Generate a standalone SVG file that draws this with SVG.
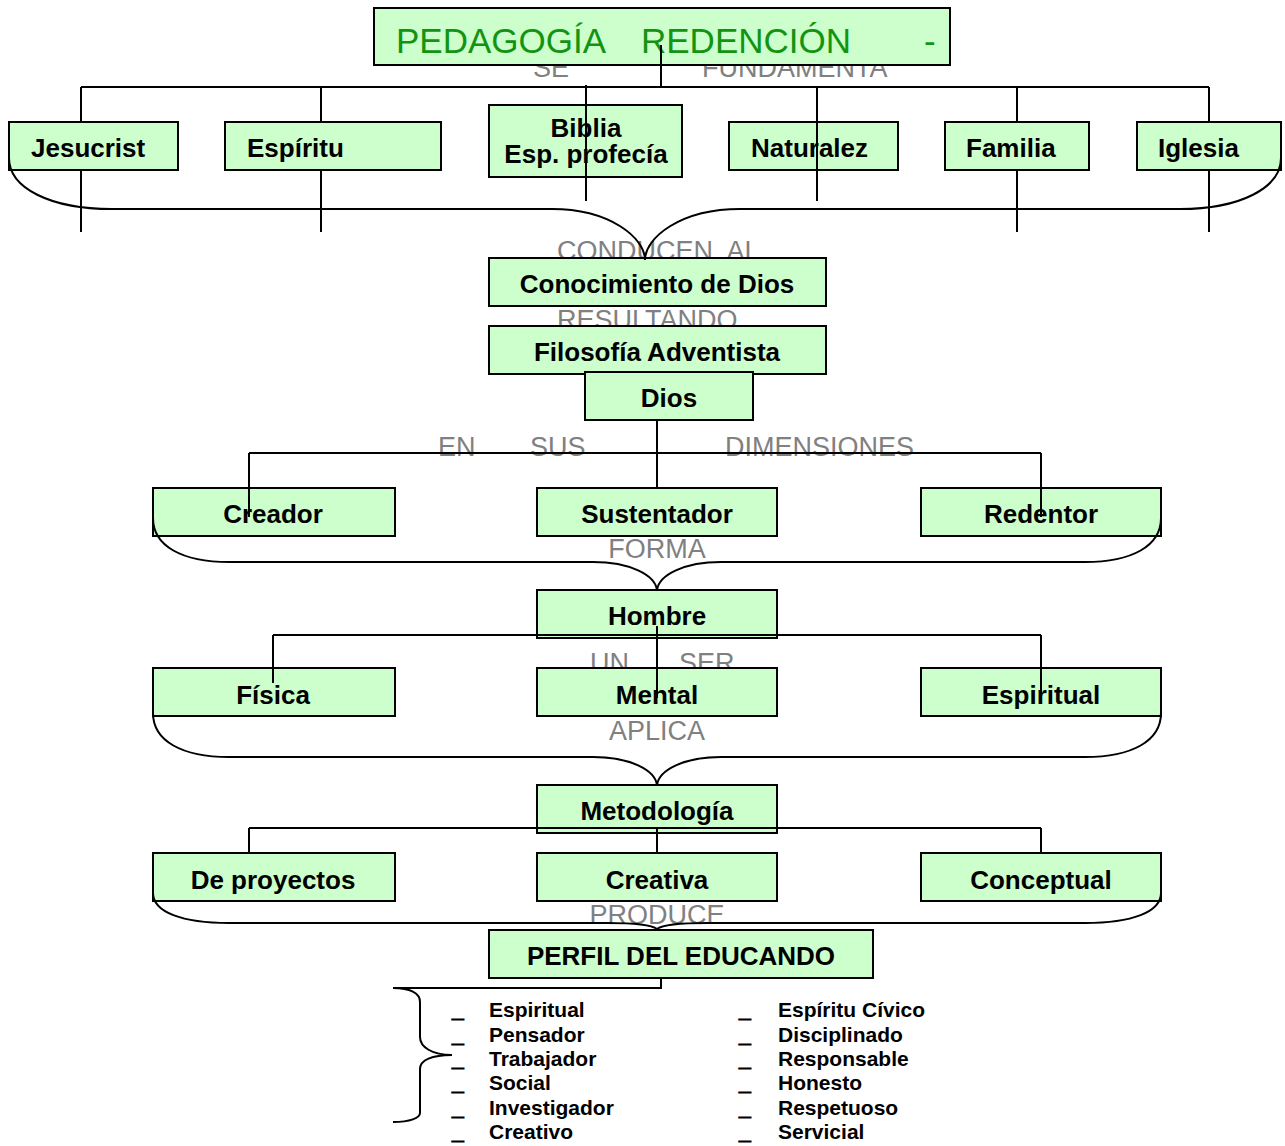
<svg xmlns="http://www.w3.org/2000/svg" width="1285" height="1146" viewBox="0 0 1285 1146">
<style>
.box{fill:#CCFFCC;stroke:#000;stroke-width:2}
.t{font-family:"Liberation Sans",Arial,sans-serif;font-weight:bold;font-size:26px;fill:#000}
.c{text-anchor:middle}
.g{font-family:"Liberation Sans",Arial,sans-serif;font-size:27px;fill:#808080}
.ln{stroke:#000;stroke-width:2;fill:none}
.it{font-family:"Liberation Sans",Arial,sans-serif;font-weight:bold;font-size:21px;fill:#000}
.d{stroke:#000;stroke-width:1.2}
.ti{font-family:"Liberation Sans",Arial,sans-serif;font-size:35px;fill:#129412}
</style>
<rect width="1285" height="1146" fill="#fff"/>
<g id="labels">
<text class="g" x="533" y="77">SE</text>
<text class="g" x="702" y="77">FUNDAMENTA</text>
<text class="g" x="557" y="260" xml:space="preserve">CONDUCEN  AL</text>
<text class="g" x="557" y="329">RESULTANDO</text>
<text class="g" x="438" y="456">EN</text>
<text class="g" x="530" y="456">SUS</text>
<text class="g" x="725" y="456">DIMENSIONES</text>
<text class="g c" x="657" y="558">FORMA</text>
<text class="g" x="590" y="672">UN</text>
<text class="g" x="679" y="672">SER</text>
<text class="g c" x="657" y="740">APLICA</text>
<text class="g c" x="657" y="924">PRODUCE</text>
</g>
<g id="title">
<rect class="box" x="374" y="8" width="576" height="57"/>
<text class="ti" y="53"><tspan x="396">PEDAGOGÍA</tspan><tspan x="641">REDENCIÓN</tspan><tspan x="924">-</tspan></text>
</g>
<g id="n-jesucrist"><rect class="box" x="9" y="122" width="169" height="48"/><text class="t" x="31" y="157">Jesucrist</text></g>
<g id="n-espiritu"><rect class="box" x="225" y="122" width="216" height="48"/><text class="t" x="247" y="157">Espíritu</text></g>
<g id="n-biblia"><rect class="box" x="489" y="105" width="193" height="72"/><text class="t c" x="586" y="137" font-size="22">Biblia</text><text class="t c" x="586" y="163" font-size="22">Esp. profecía</text></g>
<g id="n-naturalez"><rect class="box" x="729" y="122" width="169" height="48"/><text class="t" x="751" y="157">Naturalez</text></g>
<g id="n-familia"><rect class="box" x="945" y="122" width="144" height="48"/><text class="t" x="966" y="157">Familia</text></g>
<g id="n-iglesia"><rect class="box" x="1137" y="122" width="144" height="48"/><text class="t" x="1158" y="157">Iglesia</text></g>
<g id="n-conocimiento"><rect class="box" x="489" y="258" width="337" height="48"/><text class="t c" x="657" y="293">Conocimiento de Dios</text></g>
<g id="n-filosofia"><rect class="box" x="489" y="326" width="337" height="48"/><text class="t c" x="657" y="361">Filosofía Adventista</text></g>
<g id="n-dios"><rect class="box" x="585" y="372" width="168" height="48"/><text class="t c" x="669" y="407">Dios</text></g>
<g id="n-creador"><rect class="box" x="153" y="488" width="242" height="48"/><text class="t c" x="273" y="523">Creador</text></g>
<g id="n-sustentador"><rect class="box" x="537" y="488" width="240" height="48"/><text class="t c" x="657" y="523">Sustentador</text></g>
<g id="n-redentor"><rect class="box" x="921" y="488" width="240" height="48"/><text class="t c" x="1041" y="523">Redentor</text></g>
<g id="n-hombre"><rect class="box" x="537" y="590" width="240" height="48"/><text class="t c" x="657" y="625">Hombre</text></g>
<g id="n-fisica"><rect class="box" x="153" y="668" width="242" height="48"/><text class="t c" x="273" y="704">Física</text></g>
<g id="n-mental"><rect class="box" x="537" y="668" width="240" height="48"/><text class="t c" x="657" y="704">Mental</text></g>
<g id="n-espiritual"><rect class="box" x="921" y="668" width="240" height="48"/><text class="t c" x="1041" y="704">Espiritual</text></g>
<g id="n-metodologia"><rect class="box" x="537" y="785" width="240" height="48"/><text class="t c" x="657" y="820">Metodología</text></g>
<g id="n-proyectos"><rect class="box" x="153" y="853" width="242" height="48"/><text class="t c" x="273" y="889">De proyectos</text></g>
<g id="n-creativa"><rect class="box" x="537" y="853" width="240" height="48"/><text class="t c" x="657" y="889">Creativa</text></g>
<g id="n-conceptual"><rect class="box" x="921" y="853" width="240" height="48"/><text class="t c" x="1041" y="889">Conceptual</text></g>
<g id="n-perfil"><rect class="box" x="489" y="930" width="384" height="48"/><text class="t c" x="681" y="965">PERFIL DEL EDUCANDO</text></g>
<g id="connectors" class="ln">
<path d="M661 45V87M81 87H1209"/>
<path d="M81 87V122M81 170V232M321 87V122M321 170V232M1017 87V122M1017 170V232M1209 87V122M1209 170V232"/>
<path d="M586 85V201M817 87V201"/>
<path d="M9 158C9 188 50 209 112 209H552C610 209 645 238 645 260M1281 158C1281 188 1240 209 1180 209H740C680 209 645 238 645 260"/>
<path d="M657 420V488M249 453H1041M249 453V517M1041 453V517"/>
<path d="M153 518C153 546 182 562 229 562H593C630 562 655 575 657 590M1161 518C1161 546 1132 562 1085 562H721C684 562 659 575 657 590"/>
<path d="M273 635H1041M273 635V683M657 626V698M1041 635V692"/>
<path d="M153 713C153 741 182 757 229 757H593C630 757 655 770 657 785M1161 713C1161 741 1132 757 1085 757H721C684 757 659 770 657 785"/>
<path d="M249 828H1041M249 828V853M657 828V853M1041 828V853"/>
<path d="M153 893C153 912 182 923 229 923H607C635 923 652 925 657 929M1161 893C1161 912 1132 923 1085 923H707C679 923 662 925 657 929"/>
<path d="M661 978V988H393"/>
<path d="M393 988C410 988 420 993 420 1002V1037C420 1047 432 1055 452 1055C432 1055 420 1060 420 1069V1113C420 1118 410 1122 393 1122"/>
</g>
<g id="perfil-list" class="it">
<text class="d" x="452" y="1017">_</text><text x="489" y="1017">Espiritual</text>
<text class="d" x="452" y="1042">_</text><text x="489" y="1042">Pensador</text>
<text class="d" x="452" y="1066">_</text><text x="489" y="1066">Trabajador</text>
<text class="d" x="452" y="1090">_</text><text x="489" y="1090">Social</text>
<text class="d" x="452" y="1115">_</text><text x="489" y="1115">Investigador</text>
<text class="d" x="452" y="1139">_</text><text x="489" y="1139">Creativo</text>
<text class="d" x="739" y="1017">_</text><text x="778" y="1017">Espíritu Cívico</text>
<text class="d" x="739" y="1042">_</text><text x="778" y="1042">Disciplinado</text>
<text class="d" x="739" y="1066">_</text><text x="778" y="1066">Responsable</text>
<text class="d" x="739" y="1090">_</text><text x="778" y="1090">Honesto</text>
<text class="d" x="739" y="1115">_</text><text x="778" y="1115">Respetuoso</text>
<text class="d" x="739" y="1139">_</text><text x="778" y="1139">Servicial</text>
</g>
</svg>
